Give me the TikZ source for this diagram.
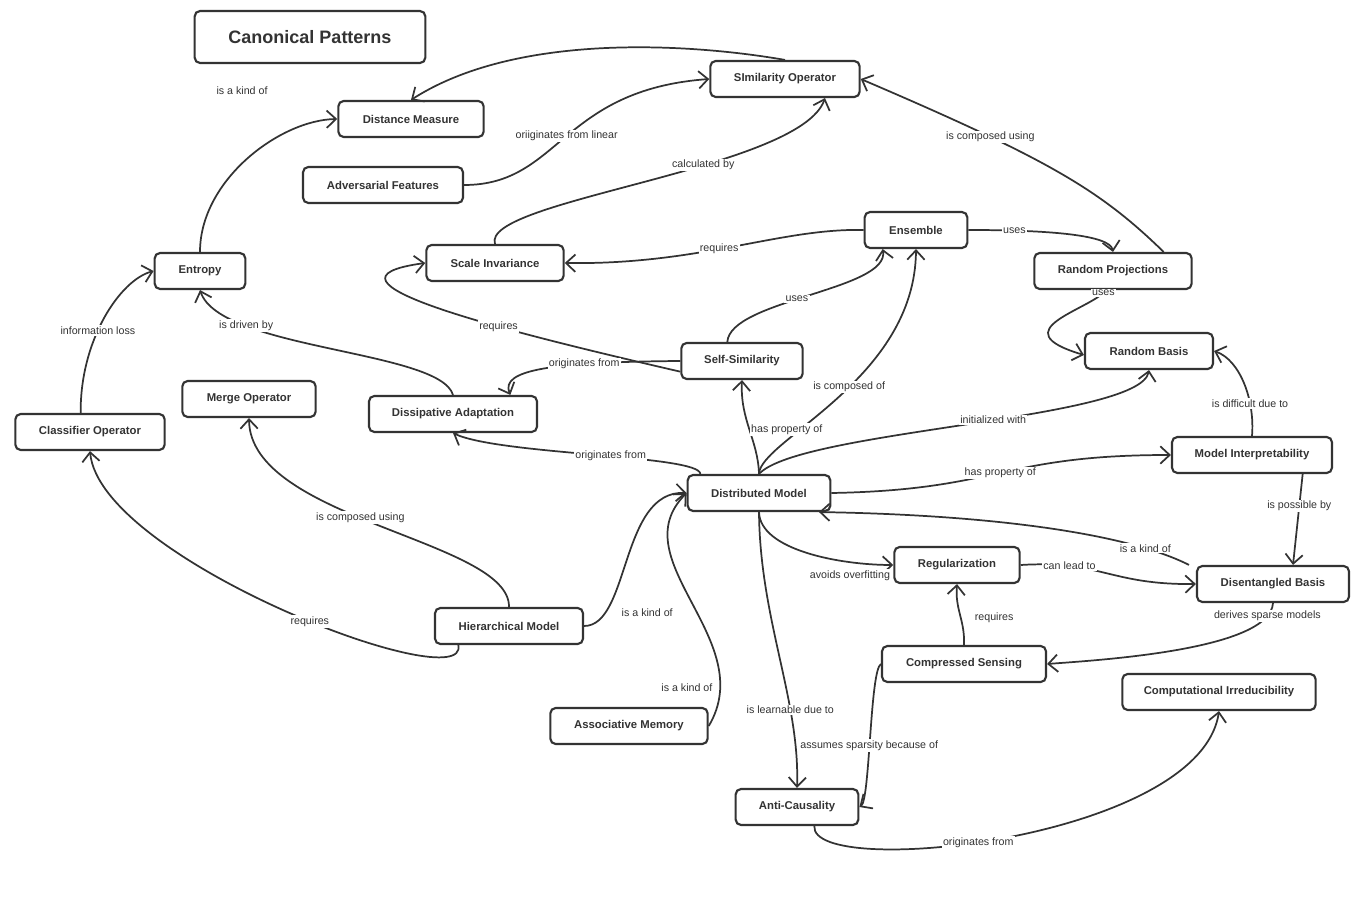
\documentclass[tikz,border=0pt]{standalone}
\usepackage{fontspec}
\setmainfont{Liberation Sans}
\usetikzlibrary{arrows.meta}
\definecolor{ink}{HTML}{333333}
\tikzset{
 box/.style={draw=ink,line width=1.6pt,rounded corners=4pt,fill=white,font=\bfseries\fontsize{8.5}{10}\selectfont,text=ink,minimum height=27pt,inner xsep=0pt},
 edge/.style={draw=ink,line width=1.3pt,-{Straight Barb[length=7pt,width=13pt,line width=1.3pt]}},
 lab/.style={fill=white,inner sep=1pt,font=\fontsize{8}{9}\selectfont,text=ink}
}
\begin{document}
\begin{tikzpicture}[x=0.75pt,y=-0.75pt]
\useasboundingbox (0,0) rectangle (1368,923);
\node[box,minimum width=173pt,minimum height=39pt,font=\bfseries\fontsize{13.5}{15}\selectfont] (cp) at (310,37) {Canonical Patterns};
\node[box,minimum width=112pt] (so) at (785,79) {SImilarity Operator};
\node[box,minimum width=109pt] (dm) at (411,119) {Distance Measure};
\node[box,minimum width=120pt] (af) at (383,185) {Adversarial Features};
\node[box,minimum width=77pt] (en) at (916,230) {Ensemble};
\node[box,minimum width=103pt] (si) at (495,263) {Scale Invariance};
\node[box,minimum width=118pt] (rp) at (1113,271) {Random Projections};
\node[box,minimum width=68pt] (et) at (200,271) {Entropy};
\node[box,minimum width=96pt] (rb) at (1149,351) {Random Basis};
\node[box,minimum width=91pt] (ss) at (742,361) {Self-Similarity};
\node[box,minimum width=100pt] (mo) at (249,399) {Merge Operator};
\node[box,minimum width=126pt] (da) at (453,414) {Dissipative Adaptation};
\node[box,minimum width=112pt] (co) at (90,432) {Classifier Operator};
\node[box,minimum width=120pt] (mi) at (1252,455) {Model Interpretability};
\node[box,minimum width=107pt] (dmod) at (759,493) {Distributed Model};
\node[box,minimum width=94pt] (rg) at (957,565) {Regularization};
\node[box,minimum width=114pt] (db) at (1273,584) {Disentangled Basis};
\node[box,minimum width=111pt] (hm) at (509,626) {Hierarchical Model};
\node[box,minimum width=123pt] (cs) at (964,664) {Compressed Sensing};
\node[box,minimum width=145pt] (ci) at (1219,692) {Computational Irreducibility};
\node[box,minimum width=118pt] (am) at (629,726) {Associative Memory};
\node[box,minimum width=92pt] (ac) at (797,807) {Anti-Causality};

\node[lab] at (242,91) {is a kind of};
\draw[edge] ([xshift=0pt]so.north) .. controls (700,45) and (520,30) .. (dm.north);
\draw[edge] (af.east) .. controls (560,185) and (560,90) .. node[lab,pos=0.5]{oriiginates from linear} (so.west);
\draw[edge] (si.north) .. controls (480,200) and (800,170) .. node[lab,pos=0.62]{calculated by} ([xshift=30pt]so.south);
\draw[edge] ([xshift=38pt]rp.north) .. controls (1100,190) and (1050,160) .. node[lab,pos=0.72]{is composed using} (so.east);
\draw[edge] (en.west) .. controls (780,228) and (700,265) .. node[lab,pos=0.55]{requires} (si.east);
\draw[edge] (en.east) .. controls (1050,230) and (1110,235) .. node[lab,pos=0.2]{uses} (rp.north);
\draw[edge] ([xshift=-5pt]rp.south) .. controls (1090,310) and (1000,330) .. node[lab,pos=0.05]{uses} ([yshift=-3pt]rb.west);
\draw[edge] ([xshift=-11pt]ss.north) .. controls (730,300) and (890,290) .. node[lab,pos=0.45]{uses} ([xshift=-25pt]en.south);
\draw[edge] ([yshift=-8pt]ss.west) .. controls (500,330) and (300,280) .. node[lab,pos=0.35]{requires} (si.west);
\draw[edge] (ss.west) .. controls (550,362) and (500,370) .. node[lab,pos=0.3]{originates from} ([xshift=43pt]da.north);
\draw[edge] (dmod.north) .. controls (760,440) and (915,380) .. node[lab,pos=0.55]{is composed of} (en.south);
\draw[edge] (dmod.north) .. controls (758,440) and (740,420) .. node[lab,pos=0.5,xshift=28pt]{has property of} (ss.south);
\draw[edge] (dmod.north) .. controls (800,430) and (1140,420) .. node[lab,pos=0.55]{initialized with} (rb.south);
\draw[edge] ([xshift=-44pt]dmod.north) .. controls (700,455) and (500,455) .. node[lab,pos=0.45]{originates from} (da.south);
\draw[edge] (da.north) .. controls (440,350) and (220,350) .. node[lab,pos=0.75]{is driven by} (et.south);
\draw[edge] (et.north) .. controls (200,180) and (280,120) .. (dm.west);
\draw[edge] ([xshift=-7pt]co.north) .. controls (80,340) and (120,280) .. node[lab,pos=0.42]{information loss} (et.west);
\draw[edge] (dmod.east) .. controls (1000,490) and (1000,455) .. node[lab,pos=0.5]{has property of} (mi.west);
\draw[edge] (mi.north) .. controls (1255,400) and (1240,360) .. node[lab,pos=0.3]{is difficult due to} (rb.east);
\draw[edge] ([xshift=38pt]mi.south) -- node[lab,pos=0.35]{is possible by} ([xshift=15pt]db.north);
\draw[edge] ([xshift=-63pt]db.north) .. controls (1130,535) and (1000,515) .. node[lab,pos=0.2]{is a kind of} ([xshift=45pt]dmod.south);
\draw[edge] (rg.east) .. controls (1100,560) and (1110,585) .. node[lab,pos=0.25]{can lead to} (db.west);
\draw[edge] (dmod.south) .. controls (760,550) and (840,565) .. node[lab,pos=0.75,yshift=-10pt]{avoids overfitting} (rg.west);
\draw[edge] (cs.north) .. controls (965,620) and (955,610) .. node[lab,pos=0.45,xshift=25pt]{requires} (rg.south);
\draw[edge] (db.south) .. controls (1270,650) and (1100,660) .. node[lab,pos=0.1]{derives sparse models} (cs.east);
\draw[edge] (dmod.south) .. controls (760,620) and (800,700) .. node[lab,pos=0.7]{is learnable due to} (ac.north);
\draw[edge] (cs.west) .. controls (870,670) and (870,800) .. node[lab,pos=0.55]{assumes sparsity because of} (ac.east);
\draw[edge] ([xshift=13pt]ac.south) .. controls (810,880) and (1200,840) .. node[lab,pos=0.45]{originates from} (ci.south);
\draw[edge] (hm.east) .. controls (630,626) and (620,490) .. node[lab,pos=0.3,yshift=-12pt,xshift=25pt]{is a kind of} (dmod.west);
\draw[edge] (am.east) .. controls (760,640) and (620,560) .. node[lab,pos=0.15,xshift=-25pt]{is a kind of} (dmod.west);
\draw[edge] (hm.north) .. controls (510,540) and (250,520) .. node[lab,pos=0.55]{is composed using} (mo.south);
\draw[edge] ([xshift=-38pt]hm.south) .. controls (470,700) and (100,560) .. node[lab,pos=0.45]{requires} (co.south);
\end{tikzpicture}
\end{document}
